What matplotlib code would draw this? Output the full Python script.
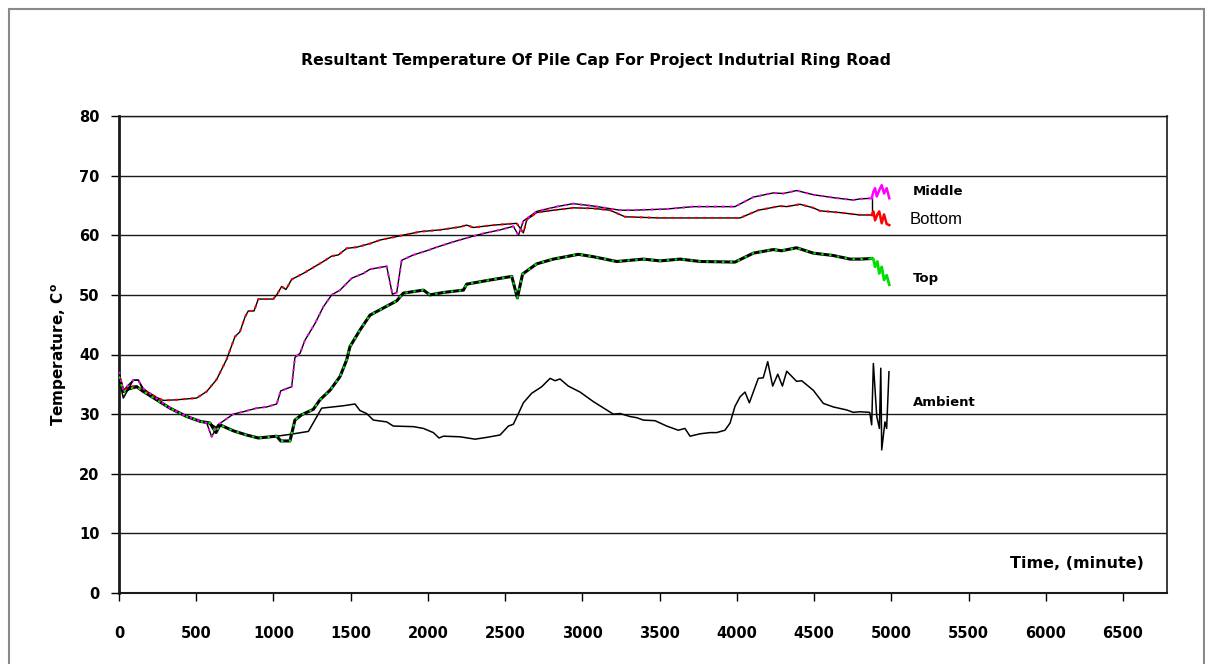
import matplotlib
matplotlib.use("Agg")
import matplotlib.pyplot as plt
from matplotlib.patches import Rectangle

# ---- data (time in minutes, temperature in C) ----
bot_t = [0, 28, 71, 114, 157, 200, 244, 287, 373, 503, 568, 632, 697, 751, 783, 816,
         837, 874, 902, 956, 999, 1021, 1053, 1081, 1118, 1193, 1258, 1323, 1377, 1420,
         1474, 1539, 1625, 1690, 1819, 1949, 2078, 2208, 2251, 2294, 2424, 2575, 2618,
         2640, 2704, 2812, 2941, 3071, 3179, 3276, 3503, 3697, 4021, 4139, 4280, 4323,
         4409, 4495, 4538, 4668, 4797, 4873]
bot_T = [36.3, 34.0, 34.6, 34.7, 33.8, 33.5, 32.8, 32.3, 32.4, 32.7, 33.8, 35.8, 39.2,
         43.0, 43.8, 46.3, 47.3, 47.3, 49.3, 49.3, 49.3, 50.0, 51.4, 50.9, 52.6, 53.6,
         54.6, 55.6, 56.5, 56.7, 57.8, 58.0, 58.6, 59.2, 59.9, 60.6, 60.9, 61.4, 61.7,
         61.3, 61.7, 62.0, 60.4, 62.6, 63.8, 64.2, 64.6, 64.5, 64.2, 63.1, 62.9, 62.9,
         62.9, 64.2, 64.9, 64.8, 65.2, 64.6, 64.1, 63.8, 63.4, 63.4]
bot_tail_t = [4873, 4884, 4895, 4910, 4922, 4938, 4953, 4970, 4987]
bot_tail_T = [63.4, 64.0, 62.5, 63.5, 64.0, 62.0, 63.5, 61.9, 61.7]

mid_t = [0, 28, 92, 125, 157, 244, 330, 416, 503, 568, 600, 640, 740, 805, 891, 956,
         1021, 1047, 1118, 1139, 1172, 1204, 1269, 1323, 1377, 1431, 1507, 1582, 1625,
         1733, 1770, 1798, 1830, 1906, 1992, 2057, 2165, 2272, 2359, 2467, 2553, 2586,
         2618, 2704, 2834, 2941, 3071, 3244, 3330, 3546, 3719, 3988, 4107, 4236, 4301,
         4387, 4495, 4625, 4754, 4797, 4873]
mid_T = [37.1, 34.0, 35.7, 35.7, 34.3, 32.6, 31.0, 29.9, 29.0, 28.5, 26.2, 28.2, 30.0,
         30.4, 31.0, 31.2, 31.7, 33.9, 34.6, 39.5, 40.2, 42.4, 45.2, 48.0, 50.0, 50.8,
         52.8, 53.6, 54.3, 54.8, 50.1, 50.4, 55.8, 56.7, 57.4, 58.0, 58.9, 59.7, 60.3,
         60.9, 61.5, 60.0, 62.4, 64.0, 64.8, 65.3, 64.9, 64.2, 64.2, 64.4, 64.8, 64.8,
         66.4, 67.1, 67.0, 67.5, 66.8, 66.3, 65.9, 66.1, 66.2]
mid_tail_t = [4873, 4884, 4895, 4906, 4923, 4938, 4953, 4970, 4987]
mid_tail_T = [66.2, 67.3, 67.9, 66.5, 67.6, 68.4, 67.0, 67.9, 66.2]

top_t = [0, 28, 71, 114, 157, 244, 330, 438, 524, 589, 628, 654, 740, 826, 902, 1021,
         1047, 1107, 1139, 1183, 1258, 1301, 1366, 1431, 1474, 1495, 1560, 1625, 1690,
         1798, 1841, 1971, 2013, 2100, 2230, 2251, 2381, 2543, 2579, 2613, 2704, 2812,
         2974, 3071, 3222, 3395, 3503, 3632, 3762, 3988, 4107, 4236, 4290, 4387, 4495,
         4625, 4733, 4797, 4873]
top_T = [36.3, 33.8, 34.3, 34.6, 33.8, 32.4, 31.0, 29.6, 28.8, 28.5, 26.9, 28.2, 27.2,
         26.5, 26.0, 26.3, 25.5, 25.5, 29.0, 29.9, 30.8, 32.4, 34.0, 36.3, 39.1, 41.3,
         44.1, 46.6, 47.5, 49.0, 50.3, 50.8, 50.0, 50.4, 50.8, 51.8, 52.4, 53.1, 49.5,
         53.5, 55.2, 56.0, 56.8, 56.4, 55.6, 56.0, 55.7, 56.0, 55.6, 55.5, 57.0, 57.6,
         57.4, 57.9, 57.0, 56.6, 56.0, 56.0, 56.1]
top_tail_t = [4873, 4884, 4895, 4910, 4922, 4938, 4953, 4970, 4987]
top_tail_T = [56.1, 56.0, 54.7, 55.6, 53.6, 54.7, 52.5, 53.3, 51.7]

amb_t = [0, 28, 92, 125, 157, 244, 330, 438, 524, 589, 628, 654, 740, 826, 902, 1021,
         1107, 1226, 1312, 1452, 1528, 1560, 1603, 1647, 1733, 1776, 1906, 1971, 2035,
         2072, 2100, 2208, 2305, 2381, 2467, 2521, 2553, 2586, 2618, 2672, 2737, 2791,
         2823, 2855, 2909, 2985, 3071, 3200, 3244, 3308, 3352, 3395, 3470, 3546, 3621,
         3664, 3697, 3762, 3826, 3869, 3923, 3956, 3988, 4021, 4053, 4081, 4139, 4171,
         4200, 4232, 4265, 4295, 4323, 4387, 4420, 4495, 4560, 4625, 4711, 4754, 4797,
         4860, 4873, 4884, 4906, 4923, 4932, 4938, 4959, 4970, 4985]
amb_T = [36.0, 32.7, 35.7, 35.7, 34.0, 32.4, 31.0, 29.6, 28.8, 28.4, 27.8, 28.2, 27.2,
         26.5, 26.0, 26.3, 26.6, 27.1, 31.0, 31.4, 31.7, 30.6, 30.1, 29.0, 28.7, 28.0,
         27.9, 27.6, 26.9, 26.0, 26.3, 26.2, 25.8, 26.1, 26.5, 28.0, 28.3, 30.1, 31.9,
         33.5, 34.6, 36.0, 35.6, 35.9, 34.7, 33.7, 32.1, 30.0, 30.1, 29.6, 29.4, 29.0,
         28.9, 28.0, 27.3, 27.6, 26.3, 26.7, 26.9, 26.9, 27.3, 28.5, 31.3, 32.9, 33.7,
         31.9, 36.0, 36.1, 38.8, 34.7, 36.7, 34.7, 37.2, 35.5, 35.6, 34.0, 31.8, 31.2,
         30.7, 30.3, 30.4, 30.3, 28.2, 38.5, 29.6, 27.6, 37.7, 24.0, 28.7, 27.6, 37.1]

x_ticks = list(range(0, 7000, 500))
y_ticks = list(range(0, 90, 10))

W, H = 1205, 664
fig = plt.figure(figsize=(W / 100, H / 100), dpi=100)
ax = fig.add_axes([119 / W, 1 - 593 / H, (1167 - 119) / W, (593 - 116) / H])

# outer chart border
fig.add_artist(Rectangle((9 / W, -0.02), (1204 - 9) / W, 1 - 9 / H + 0.02,
                         transform=fig.transFigure, fill=False,
                         ec="#8a8a8a", lw=1.5, clip_on=False))

ax.set_xlim(0, 6785)
ax.set_ylim(0, 80)
ax.set_xticks(x_ticks)
ax.set_yticks(y_ticks)
tick_font = dict(family="DejaVu Sans", weight="bold", size=10.5)
ax.set_xticklabels([str(v) for v in x_ticks], **tick_font)
ax.set_yticklabels([str(v) for v in y_ticks], **tick_font)
ax.tick_params(axis="x", direction="out", length=6, width=1, pad=18)
ax.tick_params(axis="y", direction="out", length=6, width=1, pad=8)
ax.yaxis.grid(True, color="#1a1a1a", lw=1)
ax.set_axisbelow(True)
ax.spines["left"].set_linewidth(2)
ax.spines["bottom"].set_linewidth(1.5)
ax.spines["top"].set_linewidth(1)
ax.spines["right"].set_linewidth(1.2)
for s in ax.spines.values():
    s.set_color("#1a1a1a")

dots = (0, (1.2, 2.6))

# ambient: plain black line
ax.plot(amb_t, amb_T, color="black", lw=1.1, zorder=3)

# bottom: black line with red dots
ax.plot(bot_t, bot_T, color="black", lw=1.0, zorder=4)
ax.plot(bot_t, bot_T, color="red", lw=1.5, ls=dots, zorder=5)
ax.plot(bot_tail_t, bot_tail_T, color="red", lw=1.8, zorder=5)

# middle: black line with magenta dots
ax.plot(mid_t, mid_T, color="black", lw=1.0, zorder=4)
ax.plot(mid_t, mid_T, color="magenta", lw=1.5, ls=dots, zorder=5)
ax.plot(mid_tail_t, mid_tail_T, color="magenta", lw=1.8, zorder=5)
ax.plot([mid_t[-1], mid_t[-1]], [mid_T[-1], bot_T[-1]], color="black", lw=1.0, zorder=4)

# top: thick black line with green dots
ax.plot(top_t, top_T, color="black", lw=2.2, zorder=4)
ax.plot(top_t, top_T, color="#00e000", lw=1.5, ls=dots, zorder=5)
ax.plot(top_tail_t, top_tail_T, color="#00e000", lw=2.0, zorder=5)

lab = dict(family="DejaVu Sans", weight="bold", size=9.5, va="center", ha="left")
ax.text(5140, 67.4, "Middle", **lab)
ax.text(5120, 62.6, "Bottom", family="Liberation Sans", size=12, va="center", ha="left")
ax.text(5140, 52.8, "Top", **lab)
ax.text(5140, 31.9, "Ambient", **lab)
ax.text(5768, 4.9, "Time, (minute)", family="DejaVu Sans", weight="bold",
        size=11.5, va="center", ha="left")

ax.set_ylabel(r"Temperature, C$^{\mathbf{o}}$", family="DejaVu Sans",
              weight="bold", size=11, labelpad=7)

fig.text(596 / W, 1 - 61 / H, "Resultant Temperature Of Pile Cap For Project Indutrial Ring Road",
         family="DejaVu Sans", weight="bold", size=11.3, ha="center", va="center")

fig.savefig("out.png", dpi=100)
